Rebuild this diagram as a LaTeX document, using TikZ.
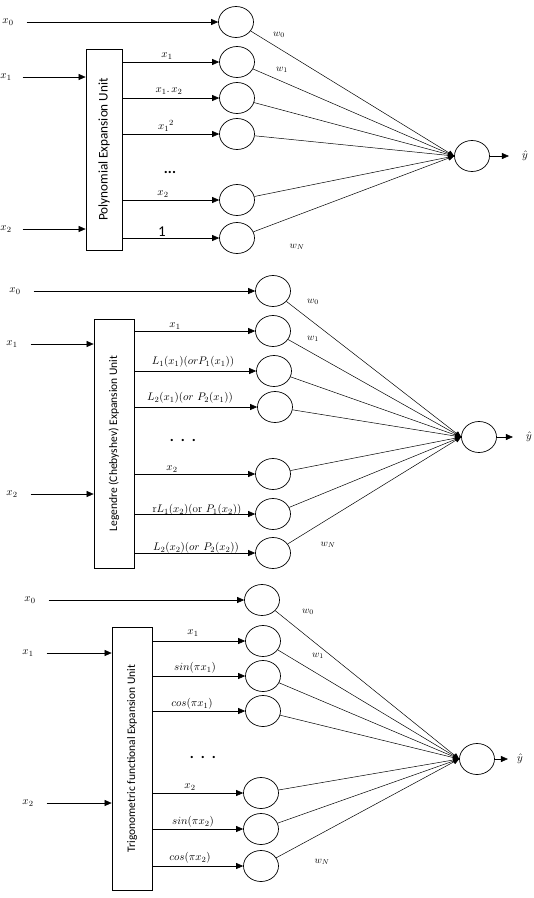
\documentclass[tikz,border=0pt]{standalone}
\usepackage{amsmath}
\usepackage{fontspec}
\setsansfont{Carlito}
\usepackage{tikz}
\usetikzlibrary{shapes,arrows.meta,positioning}

\begin{document}
\begin{tikzpicture}[
  x=1pt, y=-1pt,
  neuron/.style={draw, ellipse, line width=0.7pt, minimum width=35pt, minimum height=31pt, inner sep=0pt},
  unitbox/.style={draw, rotate=90, line width=0.7pt, inner sep=0pt, font=\sffamily\fontsize{11.5}{13}\selectfont},
  term/.style={font=\fontsize{11}{13}\selectfont, inner sep=1pt},
  weight/.style={font=\fontsize{10}{12}\selectfont, inner sep=1pt},
  arrow/.style={-{Triangle[length=7pt,width=6pt]}, line width=0.6pt},
  link/.style={-{Triangle[length=6pt,width=5pt]}, line width=0.5pt}
]
\useasboundingbox (0,0) rectangle (534,898);

% ---------- Polynomial expansion
\node[term] (p1x0) at (8,22) {$x_0$};
\node[term] (p1x1) at (6,77) {$x_1$};
\node[term] (p1x2) at (6,229) {$x_2$};
\node[unitbox, minimum width=201pt, minimum height=36pt, font=\sffamily\fontsize{13.2}{15}\selectfont] (p1box) at (104,149.5) {Polynomial Expansion Unit};
\node[neuron] (p1n0) at (236,22) {};
\node[neuron] (p1n1) at (237,62) {};
\node[neuron] (p1n2) at (237,98) {};
\node[neuron] (p1n3) at (237,134) {};
\node[neuron] (p1n4) at (237,200) {};
\node[neuron] (p1n5) at (237,238) {};
\node[neuron] (p1o) at (472,156) {};
\node[term] (p1y) at (525,156) {$\hat{y}$};

\node[term] (p1t1) at (167,56) {$x_1$};
\node[term] (p1t2) at (169,91) {$x_1.\,x_2$};
\node[term] (p1t3) at (166,126) {$x_1{}^{2}$};
\node[font=\sffamily\bfseries\fontsize{15}{16}\selectfont] (p1dots) at (170,172) {...};
\node[term] (p1t4) at (163,194) {$x_2$};
\node[font=\sffamily\fontsize{15}{16}\selectfont, inner sep=1pt] (p1t5) at (162,232) {1};

\draw[arrow] ([xshift=12pt]p1x0.east) -- (p1n0);
\draw[arrow] ([xshift=10pt]p1x1.east) -- (p1x1 -| p1box.north);
\draw[arrow] ([xshift=10pt]p1x2.east) -- (p1x2 -| p1box.north);
\draw[arrow] (p1n1 -| p1box.south) -- (p1n1);
\draw[arrow] (p1n2 -| p1box.south) -- (p1n2);
\draw[arrow] (p1n3 -| p1box.south) -- (p1n3);
\draw[arrow] (p1n4 -| p1box.south) -- (p1n4);
\draw[arrow] (p1n5 -| p1box.south) -- (p1n5);
\draw[link] (p1n0) -- (p1o.west);
\draw[link] (p1n1) -- (p1o.west);
\draw[link] (p1n2) -- (p1o.west);
\draw[link] (p1n3) -- (p1o.west);
\draw[link] (p1n4) -- (p1o.west);
\draw[link] (p1n5) -- (p1o.west);
\draw[arrow] (p1o) -- ([xshift=-12pt]p1y.west);

\node[weight] (p1w0) at (279,35) {$w_0$};
\node[weight] (p1w1) at (282,70) {$w_1$};
\node[weight] (p1wn) at (297,247) {$w_N$};

% ---------- Legendre (Chebyshev) expansion
\node[term] (p2x0) at (15,291) {$x_0$};
\node[term] (p2x1) at (12,344) {$x_1$};
\node[term] (p2x2) at (12,494) {$x_2$};
\node[unitbox, minimum width=249pt, minimum height=40pt] (p2box) at (114,443.5) {Legendre (Chebyshev) Expansion Unit};
\node[neuron] (p2n0) at (273,291) {};
\node[neuron] (p2n1) at (273,331) {};
\node[neuron] (p2n2) at (274,371) {};
\node[neuron] (p2n3) at (275,407) {};
\node[neuron] (p2n4) at (273,474) {};
\node[neuron] (p2n5) at (273,514) {};
\node[neuron] (p2n6) at (273,553) {};
\node[neuron] (p2o) at (479,437) {};
\node[term] (p2y) at (529,437) {$\hat{y}$};

\node[term] (p2t1) at (175,326) {$x_1$};
\node[term] (p2t2) at (193,362) {$L_1(x_1)(orP_1(x_1))$};
\node[term] (p2t3) at (190,398) {$L_2(x_1)(or\ P_2(x_1))$};
\node[font=\sffamily\bfseries\fontsize{15}{16}\selectfont] (p2dots) at (183,440) {.\hspace{7pt}.\hspace{7pt}.};
\node[term] (p2t4) at (172,469) {$x_2$};
\node[term] (p2t5) at (197,510) {$\mathrm{r}L_1(x_2)(\mathrm{or}\ P_1(x_2))$};
\node[term] (p2t6) at (196,548) {$L_2(x_2)(or\ P_2(x_2))$};

\draw[arrow] ([xshift=12pt]p2x0.east) -- (p2n0);
\draw[arrow] ([xshift=12pt]p2x1.east) -- (p2x1 -| p2box.north);
\draw[arrow] ([xshift=12pt]p2x2.east) -- (p2x2 -| p2box.north);
\draw[arrow] (p2n1 -| p2box.south) -- (p2n1);
\draw[arrow] (p2n2 -| p2box.south) -- (p2n2);
\draw[arrow] (p2n3 -| p2box.south) -- (p2n3);
\draw[arrow] (p2n4 -| p2box.south) -- (p2n4);
\draw[arrow] (p2n5 -| p2box.south) -- (p2n5);
\draw[arrow] (p2n6 -| p2box.south) -- (p2n6);
\draw[link] (p2n0) -- (p2o.west);
\draw[link] (p2n1) -- (p2o.west);
\draw[link] (p2n2) -- (p2o.west);
\draw[link] (p2n3) -- (p2o.west);
\draw[link] (p2n4) -- (p2o.west);
\draw[link] (p2n5) -- (p2o.west);
\draw[link] (p2n6) -- (p2o.west);
\draw[arrow] (p2o) -- ([xshift=-12pt]p2y.west);

\node[weight] (p2w0) at (313,302) {$w_0$};
\node[weight] (p2w1) at (313,339) {$w_1$};
\node[weight] (p2wn) at (328,545) {$w_N$};

% ---------- Trigonometric expansion
\node[term] (p3x0) at (30,600) {$x_0$};
\node[term] (p3x1) at (28,653) {$x_1$};
\node[term] (p3x2) at (28,803) {$x_2$};
\node[unitbox, minimum width=263pt, minimum height=40pt] (p3box) at (132,758.5) {Trigonometric functional Expansion Unit};
\node[neuron] (p3n0) at (262,600) {};
\node[neuron] (p3n1) at (263,641) {};
\node[neuron] (p3n2) at (263,676) {};
\node[neuron] (p3n3) at (263,711) {};
\node[neuron] (p3n4) at (261,793) {};
\node[neuron] (p3n5) at (261,829) {};
\node[neuron] (p3n6) at (261,866) {};
\node[neuron] (p3o) at (477,759) {};
\node[term] (p3y) at (520,759) {$\hat{y}$};

\node[term] (p3t1) at (193,633) {$x_1$};
\node[term] (p3t2) at (195,668) {$sin(\pi x_1)$};
\node[term] (p3t3) at (192,704) {$cos(\pi x_1)$};
\node[font=\sffamily\bfseries\fontsize{15}{16}\selectfont] (p3dots) at (203,757) {.\hspace{7pt}.\hspace{7pt}.};
\node[term] (p3t4) at (190,787) {$x_2$};
\node[term] (p3t5) at (193,822) {$sin(\pi x_2)$};
\node[term] (p3t6) at (190,858) {$cos(\pi x_2)$};

\draw[arrow] ([xshift=12pt]p3x0.east) -- (p3n0);
\draw[arrow] ([xshift=12pt]p3x1.east) -- (p3x1 -| p3box.north);
\draw[arrow] ([xshift=12pt]p3x2.east) -- (p3x2 -| p3box.north);
\draw[arrow] (p3n1 -| p3box.south) -- (p3n1);
\draw[arrow] (p3n2 -| p3box.south) -- (p3n2);
\draw[arrow] (p3n3 -| p3box.south) -- (p3n3);
\draw[arrow] (p3n4 -| p3box.south) -- (p3n4);
\draw[arrow] (p3n5 -| p3box.south) -- (p3n5);
\draw[arrow] (p3n6 -| p3box.south) -- (p3n6);
\draw[link] (p3n0) -- (p3o.west);
\draw[link] (p3n1) -- (p3o.west);
\draw[link] (p3n2) -- (p3o.west);
\draw[link] (p3n3) -- (p3o.west);
\draw[link] (p3n4) -- (p3o.west);
\draw[link] (p3n5) -- (p3o.west);
\draw[link] (p3n6) -- (p3o.west);
\draw[arrow] (p3o) -- ([xshift=-8pt]p3y.west);

\node[weight] (p3w0) at (308,612) {$w_0$};
\node[weight] (p3w1) at (318,656) {$w_1$};
\node[weight] (p3wn) at (322,862) {$w_N$};
\end{tikzpicture}
\end{document}
